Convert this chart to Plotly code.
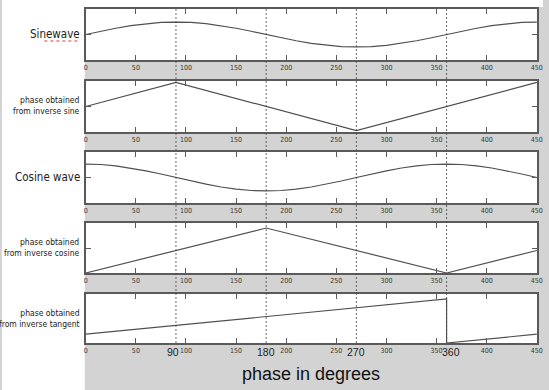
import plotly.graph_objects as go

W, H = 549, 390

# ---- data ----
deg = [0, 15, 30, 45, 60, 75, 90, 105, 120, 135, 150, 165, 180, 195, 210, 225,
       240, 255, 270, 285, 300, 315, 330, 345, 360, 375, 390, 405, 420, 435, 450]
sine_vals = [0, 0.26, 0.5, 0.71, 0.87, 0.97, 1.0, 0.97, 0.87, 0.71, 0.5, 0.26, 0,
             -0.26, -0.5, -0.71, -0.87, -0.97, -1.0, -0.97, -0.87, -0.71, -0.5, -0.26,
             0, 0.26, 0.5, 0.71, 0.87, 0.97, 1.0]
cos_vals = [1.0, 0.97, 0.87, 0.71, 0.5, 0.26, 0, -0.26, -0.5, -0.71, -0.87, -0.97, -1.0,
            -0.97, -0.87, -0.71, -0.5, -0.26, 0, 0.26, 0.5, 0.71, 0.87, 0.97, 1.0,
            0.97, 0.87, 0.71, 0.5, 0.26, 0]
asin_x = [0, 90, 270, 450]
asin_y = [0, 90, -90, 90]
acos_x = [0, 180, 360, 450]
acos_y = [0, 180, 0, 90]
atan_x = [0, 360, 360, 450]
atan_y = [90, 450, 0, 90]

xticks = [0, 50, 100, 150, 200, 250, 300, 350, 400, 450]
marks = [90, 180, 270, 360]
mark_labels = ["90", "180", "270", "360"]

left_labels = ["Sinewave", "phase obtained<br>from inverse sine", "Cosine wave",
               "phase obtained<br>from inverse cosine", "phase obtained<br>from inverse tangent"]

# ---- layout geometry (pixels) ----
x_left, x_right = 85, 543
panels = [(9, 60), (81, 132), (152, 203), (223, 273), (294, 343)]
yranges = [[-2.05, 2.05], [-95, 95], [-1.9, 1.9], [0, 200], [0, 500]]
ytickv = [[0], [0], [0], [100], []]

series = [(deg, sine_vals), (asin_x, asin_y), (deg, cos_vals), (acos_x, acos_y), (atan_x, atan_y)]

fig = go.Figure()
line_col = "#505050"
ax_col = "#5a5a5a"
tickfont = dict(family="Liberation Sans Narrow, DejaVu Sans Condensed, Arial Narrow, sans-serif",
                size=7, color="#333333")

for i, ((xs, ys), (top, bot)) in enumerate(zip(series, panels)):
    n = i + 1
    sfx = "" if n == 1 else str(n)
    fig.add_trace(go.Scatter(x=xs, y=ys, mode="lines",
                             line=dict(color=line_col, width=1.2),
                             xaxis="x" + sfx, yaxis="y" + sfx, showlegend=False,
                             hoverinfo="skip"))
    fig.layout["xaxis" + sfx] = dict(
        domain=[x_left / W, x_right / W], range=[0, 450.3], anchor="y" + sfx,
        tickvals=xticks, ticks="inside", ticklen=5, tickcolor=ax_col, tickwidth=1,
        showline=True, linecolor=ax_col, linewidth=1.5, mirror="ticks",
        showgrid=False, zeroline=False, tickfont=tickfont)
    fig.layout["yaxis" + sfx] = dict(
        domain=[1 - bot / H, 1 - top / H], range=yranges[i], anchor="x" + sfx,
        tickvals=ytickv[i], ticks="inside", ticklen=5, tickcolor=ax_col,
        showticklabels=False, showline=True, linecolor=ax_col, linewidth=1.5,
        mirror="ticks", showgrid=False, zeroline=False)

shapes = []
# white margins left of and above the gray frame
shapes.append(dict(type="rect", xref="paper", yref="paper", x0=0, x1=84 / W,
                   y0=0, y1=1, fillcolor="white", line=dict(width=0), layer="below"))
shapes.append(dict(type="rect", xref="paper", yref="paper", x0=0, x1=1,
                   y0=1 - 7 / H, y1=1, fillcolor="white", line=dict(width=0), layer="below"))
# dotted vertical reference lines
for m in marks:
    shapes.append(dict(type="line", xref="x", yref="paper", x0=m, x1=m,
                       y0=1 - 343 / H, y1=1 - 9 / H,
                       line=dict(color="#444444", width=0.8, dash="2px,2px")))
# red spell-check squiggle under "Sinewave"
shapes.append(dict(type="line", xref="paper", yref="paper", x0=43 / W, x1=79 / W,
                   y0=1 - 41 / H, y1=1 - 41 / H,
                   line=dict(color="#d04040", width=1, dash="dot")))

annotations = []
label_y = [34, 106, 177, 248, 318]
label_sizes = [11.5, 8.5, 11.5, 8.5, 8.5]
for txt, yy, fs in zip(left_labels, label_y, label_sizes):
    annotations.append(dict(text=txt, xref="paper", yref="paper", x=81 / W, y=1 - yy / H,
                            xanchor="right", yanchor="middle", align="right", showarrow=False,
                            font=dict(family="Liberation Sans Narrow, DejaVu Sans Condensed, sans-serif",
                                      size=fs, color="#222222")))
shifts = [-3, 0, 0, 4]
for m, t, s in zip(marks, mark_labels, shifts):
    annotations.append(dict(text=t, xref="x5", yref="paper", x=m, y=1 - 352 / H,
                            xanchor="center", yanchor="middle", showarrow=False, xshift=s,
                            font=dict(family="Liberation Sans, Arial, sans-serif", size=10.5,
                                      color="#222222")))
annotations.append(dict(text="phase in degrees", xref="paper", yref="paper",
                        x=(x_left + x_right) / 2 / W, y=1 - 374 / H, xanchor="center",
                        yanchor="middle", showarrow=False,
                        font=dict(family="Liberation Sans, Arial, sans-serif", size=18,
                                  color="#111111")))

fig.update_layout(width=W, height=H, margin=dict(l=0, r=0, t=0, b=0),
                  paper_bgcolor="#d3d3d3", plot_bgcolor="white",
                  shapes=shapes, annotations=annotations)

fig.write_html("out.html")
